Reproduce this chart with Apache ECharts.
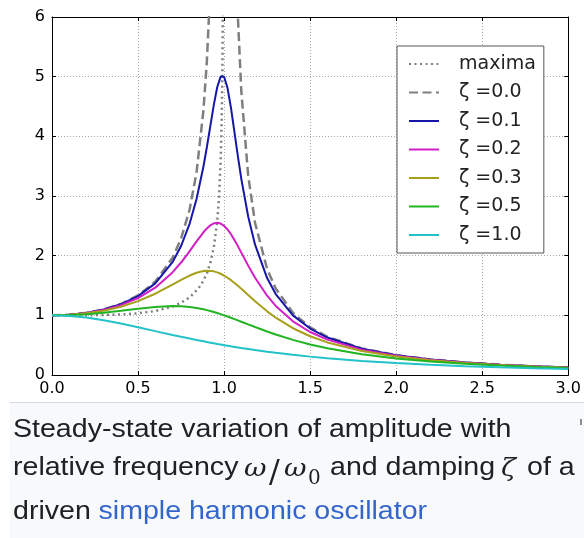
<!DOCTYPE html>
<html><head><meta charset="utf-8">
<script src="https://cdn.jsdelivr.net/npm/echarts@6/dist/echarts.min.js"></script>
<style>html,body{margin:0;padding:0;background:#fff}#c{width:584px;height:538px}</style>
</head><body><div id="c"></div>
<script>
// relative frequency omega/omega0 (sample points)
const ratio = [0,0.1,0.2,0.3,0.4,0.5,0.6,0.7,0.75,0.8,0.84,0.88,0.9,0.92,0.94,0.96,0.98,0.99,1.0,1.02,1.04,1.06,1.08,1.1,1.14,1.18,1.25,1.3,1.4,1.5,1.6,1.8,2.0,2.2,2.4,2.6,2.8,3.0];
const zeta00 = [1,1.010,1.042,1.099,1.190,1.333,1.563,1.961,2.286,2.778,3.397,4.433,5.263,6.510,8.591,12.76,25.25,50.25,null,24.75,12.25,8.091,6.010,4.762,3.338,2.548,1.778,1.449,1.042,0.800,0.641,0.446,0.333,0.260,0.210,0.174,0.146,0.125];
const zeta01 = [1,1.010,1.041,1.097,1.185,1.322,1.536,1.891,2.162,2.538,2.950,3.495,3.821,4.172,4.523,4.822,5.001,5.025,5.000,4.809,4.476,4.075,3.668,3.288,2.656,2.184,1.625,1.356,1.000,0.778,0.628,0.441,0.330,0.259,0.209,0.173,0.146,0.125];
const zeta02 = [1,1.009,1.038,1.090,1.170,1.288,1.463,1.719,1.885,2.076,2.239,2.392,2.457,2.508,2.541,2.552,2.538,2.522,2.500,2.439,2.359,2.264,2.160,2.051,1.833,1.629,1.329,1.157,0.900,0.721,0.593,0.425,0.322,0.254,0.206,0.171,0.144,0.124];
const zeta03 = [1,1.008,1.034,1.078,1.145,1.238,1.362,1.514,1.593,1.667,1.713,1.742,1.747,1.745,1.737,1.720,1.697,1.683,1.667,1.630,1.589,1.543,1.495,1.444,1.339,1.235,1.067,0.960,0.784,0.649,0.546,0.402,0.310,0.246,0.201,0.168,0.142,0.122];
const zeta05 = [1,1.005,1.020,1.044,1.075,1.109,1.140,1.155,1.152,1.140,1.124,1.101,1.087,1.072,1.056,1.038,1.020,1.010,1.000,0.980,0.959,0.937,0.915,0.893,0.848,0.804,0.730,0.679,0.589,0.512,0.448,0.348,0.277,0.226,0.188,0.158,0.135,0.117];
const zeta10 = [1,0.990,0.962,0.917,0.862,0.800,0.735,0.671,0.640,0.610,0.586,0.564,0.552,0.542,0.531,0.520,0.510,0.505,0.500,0.490,0.480,0.471,0.462,0.452,0.435,0.418,0.390,0.372,0.338,0.308,0.281,0.236,0.200,0.171,0.148,0.129,0.113,0.100];
// locus of the maxima
const maximaX = [0,0.2,0.4,0.5,0.6,0.7,0.75,0.8,0.85,0.88,0.9,0.92,0.94,0.96,0.97,0.98,0.985,0.99,0.995];
const maximaY = [1,1.001,1.013,1.033,1.072,1.147,1.210,1.302,1.446,1.581,1.705,1.878,2.136,2.576,2.953,3.589,4.129,5.038,7.098];
const seriesNames = ['maxima','ζ =0.0','ζ =0.1','ζ =0.2','ζ =0.3','ζ =0.5','ζ =1.0'];
const xTickLabels = ['0.0','0.5','1.0','1.5','2.0','2.5','3.0'];
const yTickLabels = ['0','1','2','3','4','5','6'];

const chart = echarts.init(document.getElementById('c'), null, {renderer:'canvas'});
const pairs = (xs, ys) => xs.map((x, i) => [x, ys[i]]);
const curves = [zeta00, zeta01, zeta02, zeta03, zeta05, zeta10];
const colors = ['#7f7f7f', '#1616a8', '#d21ec4', '#a8a01a', '#22b422', '#22c2c8'];

const series = [{
  name: seriesNames[0], type: 'line', data: pairs(maximaX, maximaY),
  showSymbol: false, symbol: 'none', clip: true,
  lineStyle: {color: '#7f7f7f', width: 2.5, type: [2, 3.5]}, itemStyle: {color: '#7f7f7f'}, z: 3
}];
curves.forEach((c, i) => {
  series.push({
    name: seriesNames[i + 1], type: 'line', data: pairs(ratio, c),
    showSymbol: false, symbol: 'none', clip: true, connectNulls: false,
    lineStyle: {color: colors[i], width: i === 0 ? 2.5 : 2, type: i === 0 ? [9, 4.5] : 'solid'},
    itemStyle: {color: colors[i]}, z: 3
  });
});

const axisCommon = {
  type: 'value', axisLine: {show: true, onZero: false, lineStyle: {color: '#000', width: 1}},
  axisTick: {show: true, inside: true, length: 4, lineStyle: {color: '#000'}}
};

const capFont = 'Liberation Sans';
const capSize = 25.5, capScale = 1.12;
const capText = (x, y, t, fill) => ({type: 'text', x: x, y: y, scaleX: capScale, z: 10,
  style: {text: t, fontSize: capSize, fontFamily: capFont, fill: fill || '#202122', verticalAlign: 'middle', align: 'left'}});
const mathText = (x, y, t, size, italic, sx) => ({type: 'text', x: x, y: y, scaleX: sx || 1.1, z: 10,
  style: {text: t, fontSize: size, fontFamily: 'DejaVu Serif', fontStyle: italic ? 'italic' : 'normal', fill: '#202122', verticalAlign: 'middle', align: 'left'}});

chart.setOption({
  animation: false,
  backgroundColor: '#fff',
  grid: {left: 52, top: 17, width: 517, height: 358, containLabel: false},
  xAxis: [
    Object.assign({}, axisCommon, {min: 0, max: 3, interval: 0.5, position: 'bottom',
      axisLabel: {show: true, margin: 6, fontFamily: 'DejaVu Sans', fontSize: 16, color: '#000',
        formatter: (v) => xTickLabels[Math.round(v / 0.5)]},
      splitLine: {show: true, lineStyle: {color: '#a8a8a8', width: 1, type: [1, 2]}}}),
    Object.assign({}, axisCommon, {min: 0, max: 3, interval: 0.5, position: 'top',
      axisLabel: {show: false}, splitLine: {show: false}})
  ],
  yAxis: [
    Object.assign({}, axisCommon, {min: 0, max: 6, interval: 1, position: 'left',
      axisLabel: {show: true, margin: 7, fontFamily: 'DejaVu Sans', fontSize: 16, color: '#000',
        formatter: (v) => yTickLabels[Math.round(v)]},
      splitLine: {show: true, lineStyle: {color: '#a8a8a8', width: 1, type: [1, 2]}}}),
    Object.assign({}, axisCommon, {min: 0, max: 6, interval: 1, position: 'right',
      axisLabel: {show: false}, splitLine: {show: false}})
  ],
  legend: {
    data: seriesNames, orient: 'vertical', left: 397, top: 46,
    padding: [8, 8, 8, 11], itemWidth: 30, itemHeight: 14, itemGap: 8.5,
    backgroundColor: '#fff', borderColor: '#555', borderWidth: 1, borderRadius: 0,
    itemStyle: {opacity: 0, borderWidth: 0},
    textStyle: {fontFamily: 'DejaVu Sans', fontSize: 19, color: '#222', lineHeight: 20, padding: [0, 0, 0, 15]},
    selectedMode: false
  },
  series: series,
  graphic: [
    {type: 'rect', shape: {x: 10, y: 402, width: 574, height: 136}, style: {fill: '#f8f9fa'}, z: 5},
    {type: 'line', shape: {x1: 10, y1: 402.5, x2: 584, y2: 402.5}, style: {stroke: '#d4d7dc', lineWidth: 1}, z: 6},
    {type: 'rect', shape: {x: 580, y: 419, width: 2, height: 6}, style: {fill: '#8a8e94'}, z: 6},
    capText(13, 429.6, 'Steady-state variation of amplitude with'),
    capText(13, 468.1, 'relative frequency'),
    mathText(244, 470, 'ω', 24, true, 1.15),
    mathText(269, 474, '/', 32, false, 1.0),
    mathText(284, 470, 'ω', 24, true, 1.15),
    mathText(308, 479, '0', 20, false, 1.0),
    capText(330, 468.1, 'and damping'),
    mathText(501, 469, 'ζ', 25, true, 1.1),
    capText(527, 468.1, 'of a'),
    capText(13, 512.1, 'driven'),
    capText(98.5, 512.1, 'simple harmonic oscillator', '#3366cc')
  ]
});
</script>
</body></html>
